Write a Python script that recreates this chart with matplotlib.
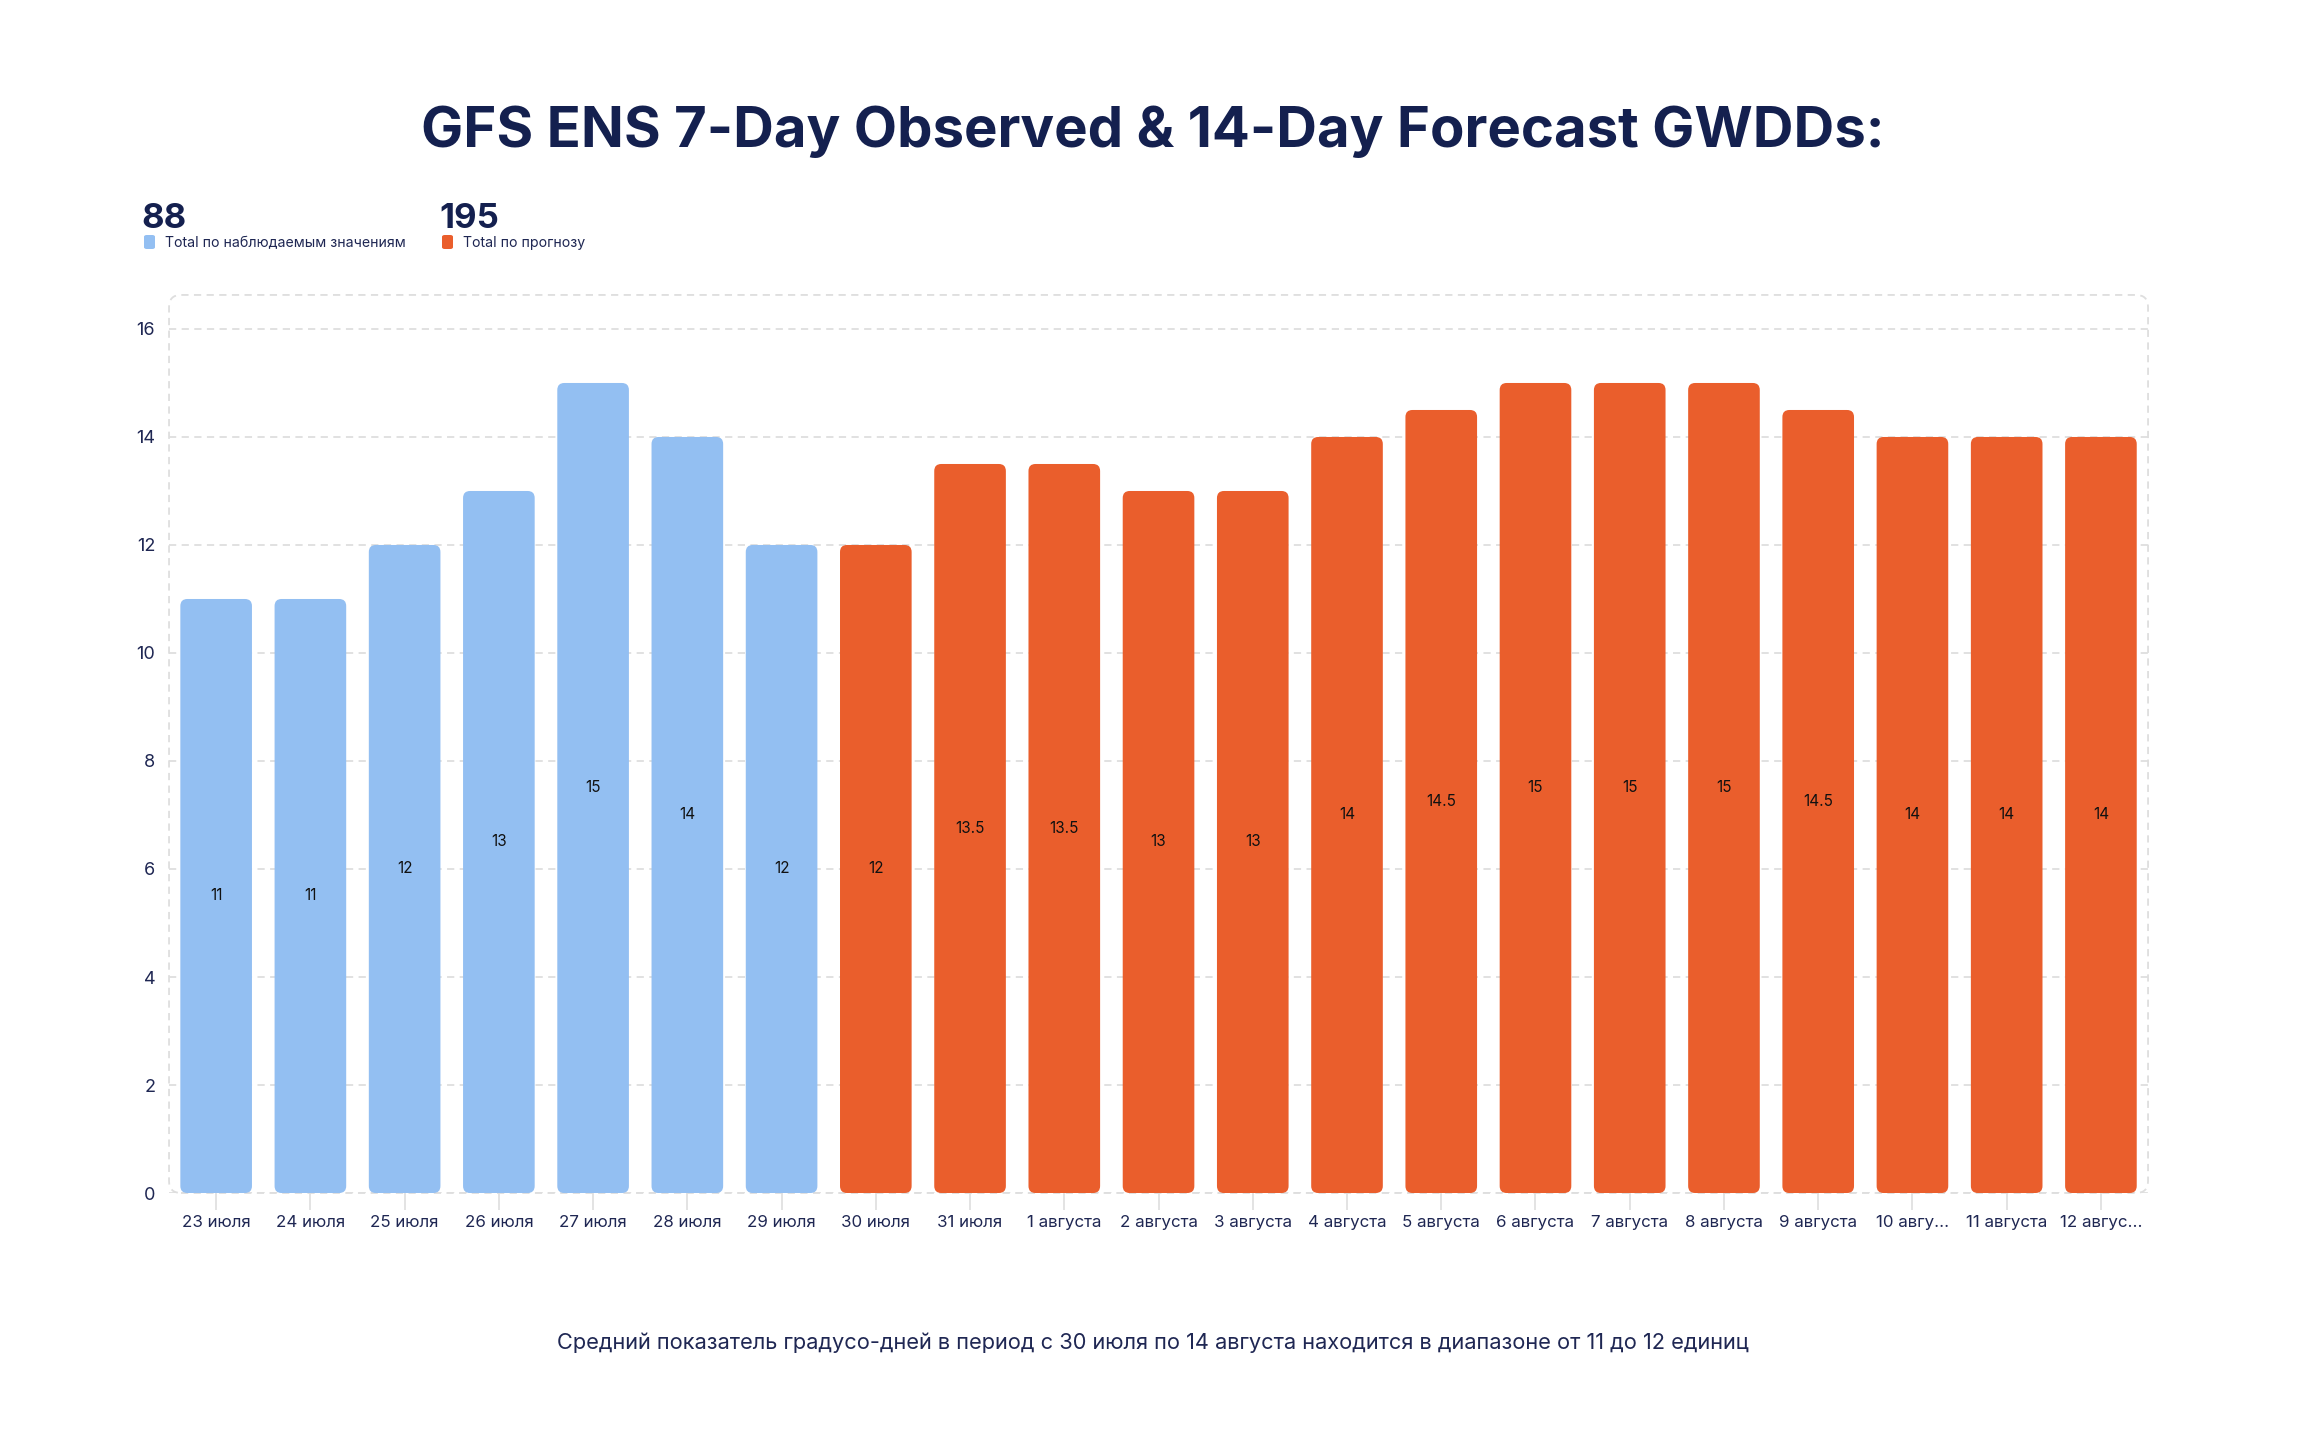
import matplotlib
matplotlib.use('Agg')
import matplotlib.pyplot as plt
from matplotlib.patches import FancyBboxPatch

plt.rcParams['font.family'] = ['Inter', 'DejaVu Sans']

# data
dates = ['23 июля', '24 июля', '25 июля', '26 июля', '27 июля', '28 июля', '29 июля',
         '30 июля', '31 июля', '1 августа', '2 августа', '3 августа', '4 августа',
         '5 августа', '6 августа', '7 августа', '8 августа', '9 августа',
         '10 авгу...', '11 августа', '12 авгус...']
observed = [11, 11, 12, 13, 15, 14, 12]
forecast = [12, 13.5, 13.5, 13, 13, 14, 14.5, 15, 15, 15, 14.5, 14, 14, 14]
total_observed = 88
total_forecast = 195
label_observed = 'Total по наблюдаемым значениям'
label_forecast = 'Total по прогнозу'
title = 'GFS ENS 7-Day Observed & 14-Day Forecast GWDDs:'
footer = 'Средний показатель градусо-дней в период с 30 июля по 14 августа находится в диапазоне от 11 до 12 единиц'

BLUE = '#93BFF2'
ORANGE = '#EA5E2C'
NAVY = '#14204F'
TEXT = '#1F2753'
GRID = '#DEDEDE'

fig = plt.figure(figsize=(23.06, 14.48), dpi=100)
ax = fig.add_axes([0.0733, 0.1761, 0.8582, 0.6202])

values = observed + forecast
colors = [BLUE] * len(observed) + [ORANGE] * len(forecast)
x = list(range(len(values)))

ax.set_xlim(-0.5, len(values) - 0.5)
ax.set_ylim(0, 16.63)

bars = ax.bar(x, values, width=0.76, color=colors, zorder=3)

# swap plain rectangles for rounded ones
bb = ax.get_position()
px_x = bb.width * fig.get_figwidth() * fig.dpi / len(values)
px_y = bb.height * fig.get_figheight() * fig.dpi / 16.63
r = 7 / px_x
asp = (7 / px_y) / r
for b in bars:
    p = FancyBboxPatch((b.get_x(), b.get_y()), b.get_width(), b.get_height(),
                       boxstyle=f'round,pad=0,rounding_size={r}', mutation_aspect=asp,
                       facecolor=b.get_facecolor(), edgecolor='none', zorder=3)
    ax.add_patch(p)
    b.set_visible(False)

for xi, v in zip(x, values):
    ax.text(xi, v / 2, f'{v:g}', ha='center', va='center', fontsize=11,
            color='#111111', zorder=4)

ax.set_yticks(range(0, 17, 2))
ax.yaxis.grid(True, color=GRID, linestyle=(0, (4, 3)), linewidth=1.3, zorder=0)
ax.set_axisbelow(True)
for s in ax.spines.values():
    s.set_visible(False)

ax.set_xticks(x)
ax.set_xticklabels(dates)
ax.tick_params(axis='x', length=12, width=1.2, color=GRID, pad=4, labelsize=12.2, labelcolor=TEXT)
ax.tick_params(axis='y', length=0, pad=10, labelsize=13, labelcolor=TEXT)

# rounded dashed frame
frame = FancyBboxPatch((0, 0), 1, 1, transform=ax.transAxes, clip_on=False,
                       boxstyle=f'round,pad=0,rounding_size={12 / (bb.width * 2306)}',
                       mutation_aspect=(bb.width * 2306) / (bb.height * 1448),
                       facecolor='none', edgecolor=GRID, linestyle=(0, (4, 3)),
                       linewidth=1.3, zorder=1)
ax.add_patch(frame)

fig.text(0.5, 1 - 132 / 1448, title, ha='center', va='center', fontsize=40.5,
         fontweight='bold', color=NAVY)

# summary legend
fig.text(141 / 2306, 1 - 219 / 1448, str(total_observed), ha='left', va='center',
         fontsize=25, fontweight='bold', color=NAVY)
fig.text(439 / 2306, 1 - 219 / 1448, str(total_forecast), ha='left', va='center',
         fontsize=25, fontweight='bold', color=NAVY)
for x0, c, lbl in [(144, BLUE, label_observed), (442, ORANGE, label_forecast)]:
    fig.patches.append(FancyBboxPatch((x0 / 2306, 1 - 249 / 1448), 11 / 2306, 14 / 1448,
                                      boxstyle='round,pad=0,rounding_size=0.0012',
                                      transform=fig.transFigure, facecolor=c,
                                      edgecolor='none', figure=fig))
    fig.text((x0 + 21) / 2306, 1 - 243 / 1448, lbl, ha='left', va='center',
             fontsize=10.2, color=TEXT)

fig.text(0.5, 1 - 1343 / 1448, footer, ha='center', va='center', fontsize=15.7, color=TEXT)

fig.savefig('out.png', dpi=100, facecolor='white')
